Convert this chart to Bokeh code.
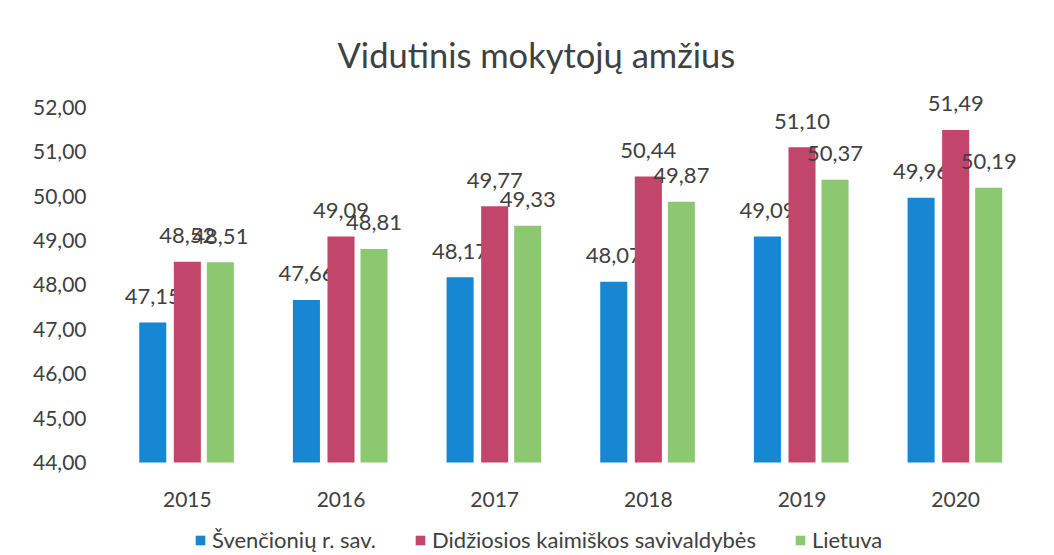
from bokeh.plotting import figure
from bokeh.models import ColumnDataSource, Range1d, FixedTicker, Legend, LegendItem, FactorRange
from bokeh.core.properties import value
from bokeh.transform import dodge
from bokeh.embed import file_html
from bokeh.resources import INLINE

years = ["2015", "2016", "2017", "2018", "2019", "2020"]
svencioniu = [47.15, 47.66, 48.17, 48.07, 49.09, 49.96]
didziosios = [48.52, 49.09, 49.77, 50.44, 51.10, 51.49]
lietuva = [48.51, 48.81, 49.33, 49.87, 50.37, 50.19]
series_names = ["Švenčionių r. sav.", "Didžiosios kaimiškos savivaldybės", "Lietuva"]
y_ticks = [44, 45, 46, 47, 48, 49, 50, 51, 52]
y_axis_min = 44

colors = ["#1787d4", "#c2466b", "#8cc870"]
FONT = "Lato"
TXT = "#404040"

def fmt(v):
    return f"{v:.2f}".replace(".", ",")

src = ColumnDataSource(dict(
    years=years,
    a=svencioniu, b=didziosios, c=lietuva,
    la=[fmt(v) for v in svencioniu],
    lb=[fmt(v) for v in didziosios],
    lc=[fmt(v) for v in lietuva],
    base=[y_axis_min] * len(years),
))

# frame extends below the value axis minimum so that the legend below the
# category labels stays inside the drawable area
p = figure(width=1046, height=553, x_range=FactorRange(*years), y_range=Range1d(41.95, 52.4),
           output_backend="svg", toolbar_location=None,
           min_border_left=110, min_border_right=14, min_border_top=89, min_border_bottom=0)

p.title.text = "Vidutinis mokytojų amžius"
p.title.text_font = FONT
p.title.text_font_size = "34.5px"
p.title.text_font_style = "normal"
p.title.text_color = TXT
p.title.align = "left"
p.title.offset = 227
p.title.standoff = 30

p.outline_line_color = None
p.xgrid.grid_line_color = None
p.ygrid.grid_line_color = None
p.xaxis.visible = False

p.yaxis.ticker = FixedTicker(ticks=y_ticks)
p.yaxis.major_label_overrides = {t: fmt(t) for t in y_ticks}
p.yaxis.axis_line_color = None
p.yaxis.major_tick_line_color = None
p.yaxis.minor_tick_line_color = None
p.yaxis.major_label_text_font = FONT
p.yaxis.major_label_text_font_size = "21px"
p.yaxis.major_label_text_color = TXT
p.yaxis.major_label_standoff = 18

# category labels under the bars
p.text(x="years", y="base", text="years", source=src, text_align="center",
       text_baseline="alphabetic", y_offset=37, text_font=value(FONT),
       text_font_size="21px", text_color=TXT)

offs = [-0.225, 0.0, 0.215]
keys = ["a", "b", "c"]
lkeys = ["la", "lb", "lc"]
renderers = []
for k, lk, off, col in zip(keys, lkeys, offs, colors):
    r = p.vbar(x=dodge("years", off, range=p.x_range), top=k, bottom="base", width=0.176,
               source=src, fill_color=col, line_color=None)
    renderers.append(r)
    p.text(x=dodge("years", off, range=p.x_range), y=k, text=lk, source=src,
           text_align="center", text_baseline="alphabetic", y_offset=-26,
           text_font=value(FONT), text_font_size="22px", text_color=TXT)

legend = Legend(items=[LegendItem(label=n, renderers=[r]) for n, r in zip(series_names, renderers)],
                orientation="horizontal", location=(84, 0),
                label_text_font=FONT, label_text_font_size="22px", label_text_color=TXT,
                glyph_width=12, glyph_height=12, spacing=38, label_standoff=6,
                border_line_color=None, background_fill_alpha=0, padding=0, margin=0)
p.add_layout(legend, "center")

open("out.html", "w").write(file_html(p, INLINE))
